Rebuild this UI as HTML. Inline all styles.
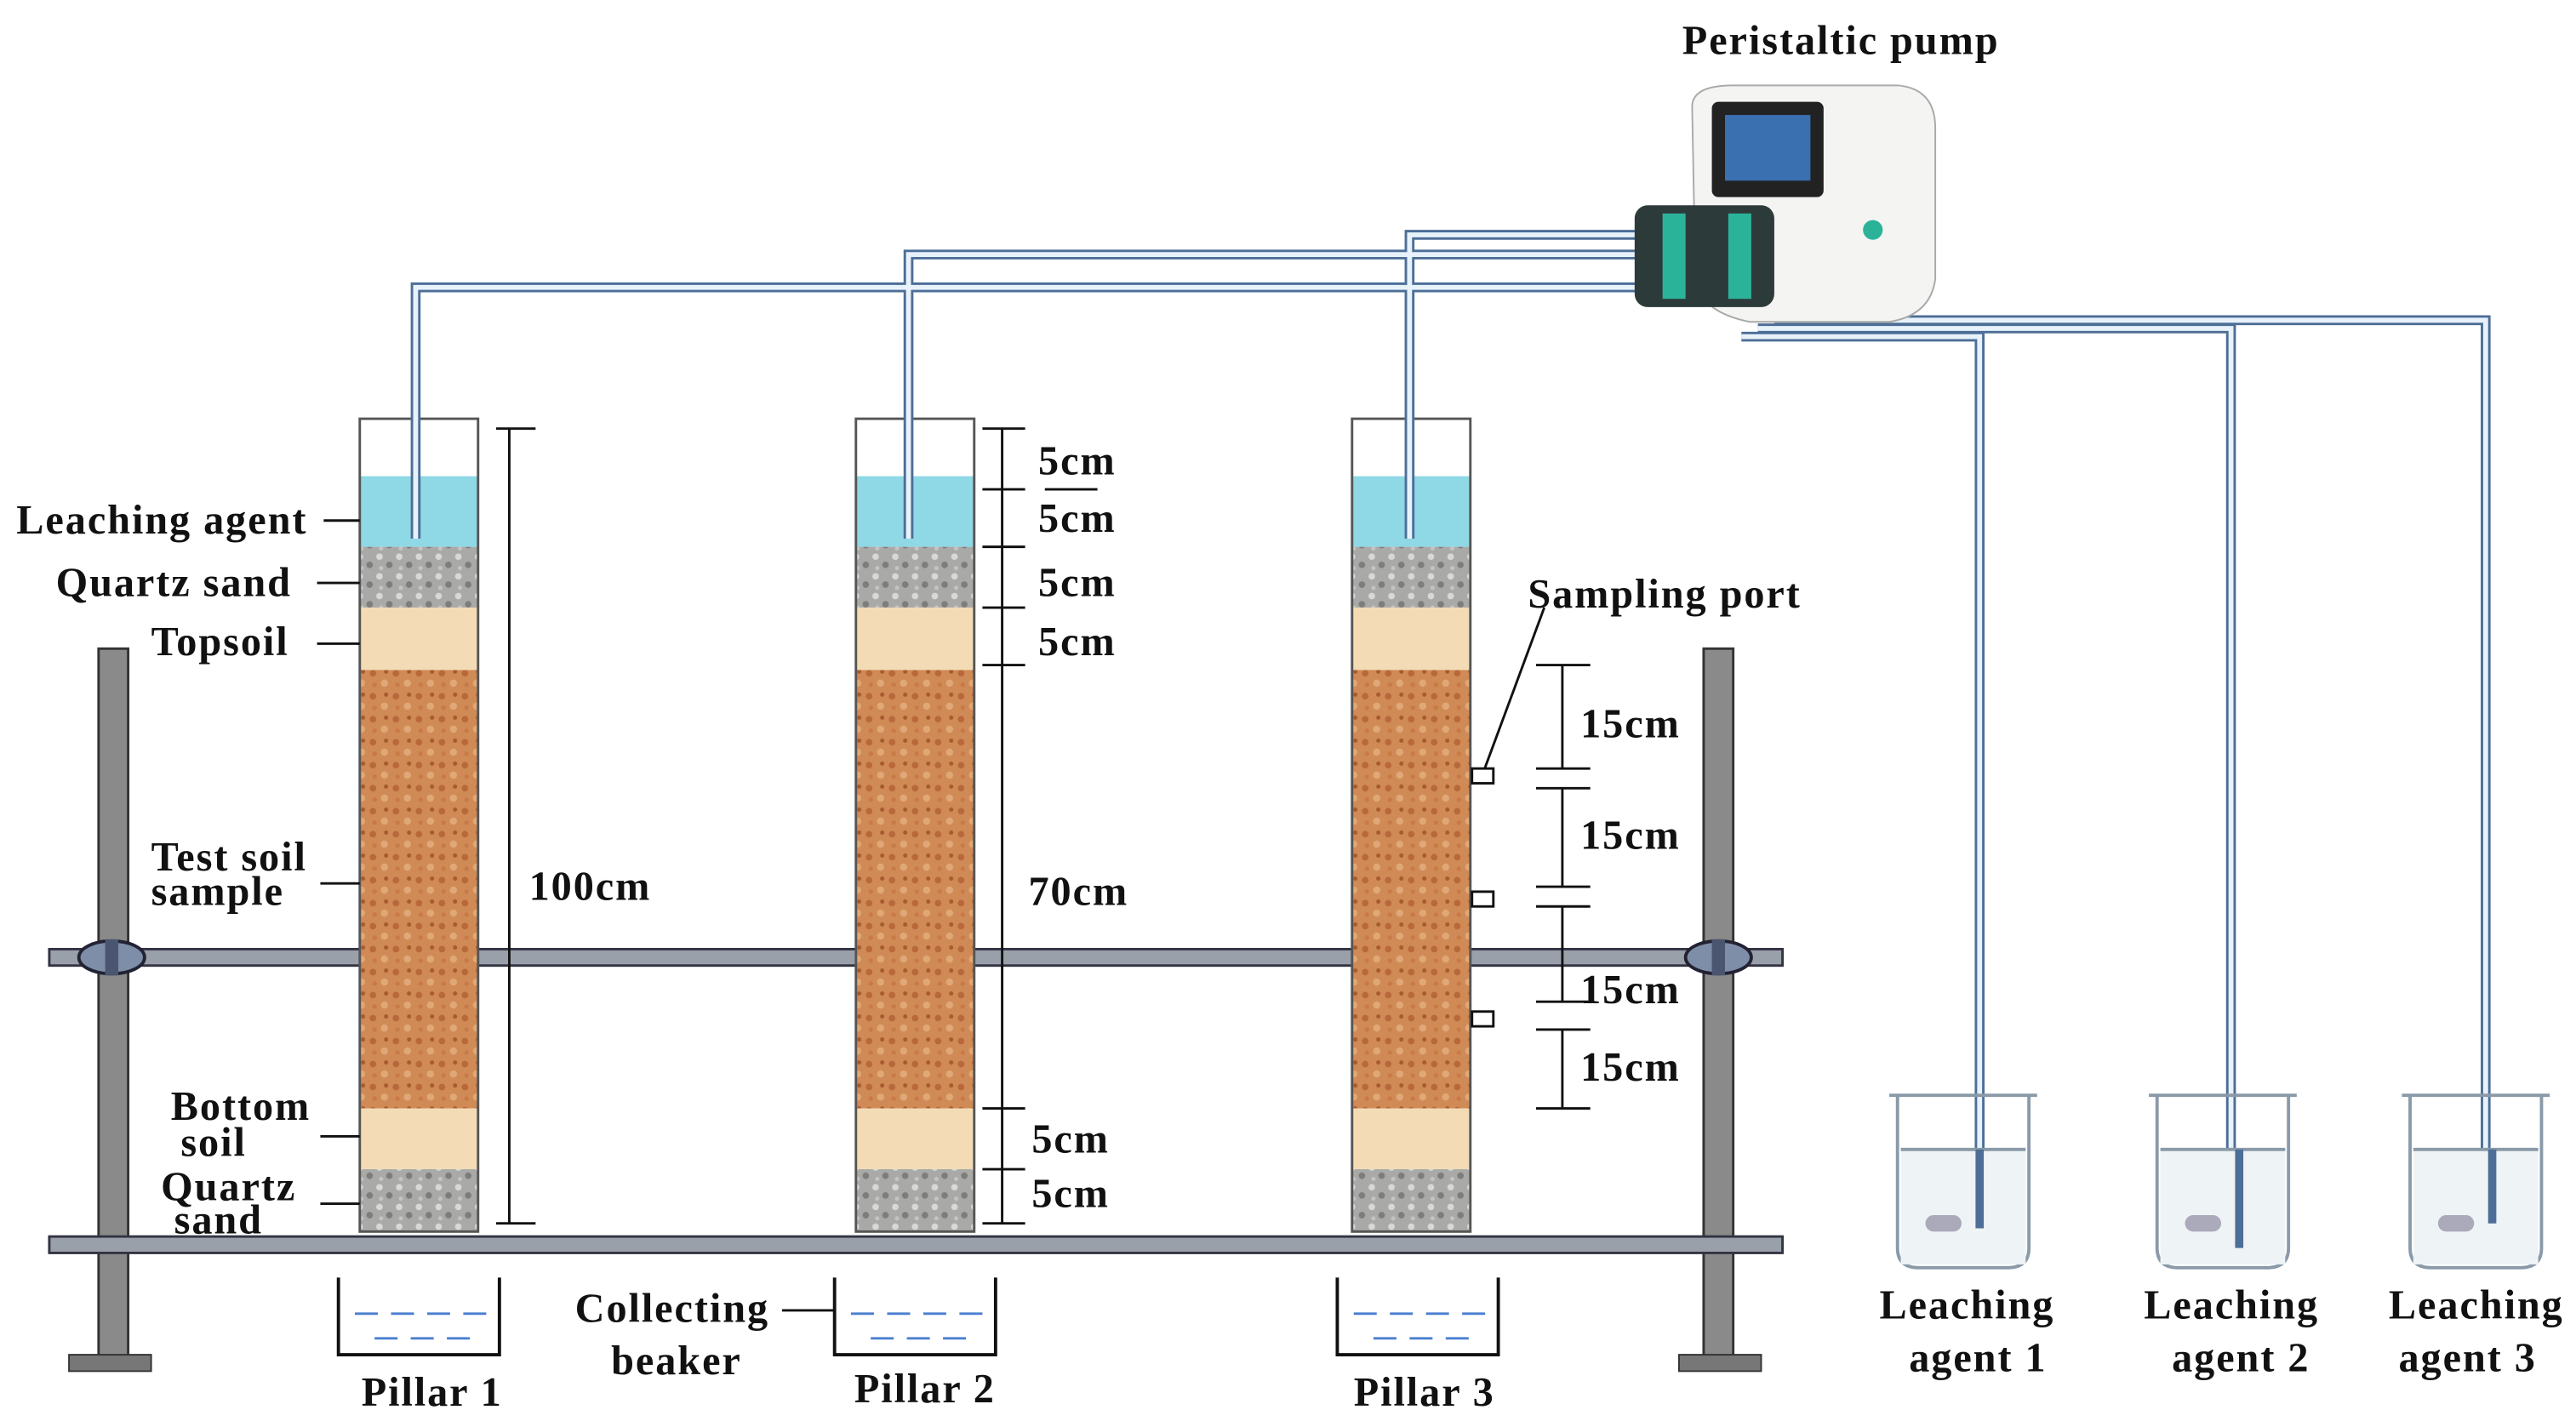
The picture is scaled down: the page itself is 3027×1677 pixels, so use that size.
<!DOCTYPE html>
<html><head><meta charset="utf-8"><style>
html,body{margin:0;padding:0;background:#fff;}
svg{display:block}
text{font-family:"Liberation Serif",serif;font-weight:bold;fill:#111;letter-spacing:1px;}
</style></head><body>
<svg width="3027" height="1677" viewBox="0 0 1568 869" preserveAspectRatio="none" xmlns="http://www.w3.org/2000/svg">
<defs>
<pattern id="soil" width="14" height="14" patternUnits="userSpaceOnUse">
<rect width="14" height="14" fill="#d08a55"/>
<circle cx="3" cy="4" r="2" fill="#b8683a"/><circle cx="10" cy="10" r="2.2" fill="#e0a877"/><circle cx="11" cy="3" r="1.3" fill="#a85a30"/><circle cx="4" cy="11" r="1.4" fill="#c77a48"/>
</pattern>
<pattern id="sand" width="12" height="12" patternUnits="userSpaceOnUse">
<rect width="12" height="12" fill="#a9aaa8"/>
<circle cx="3" cy="3" r="2" fill="#d8d8d6"/><circle cx="9" cy="8" r="2" fill="#7d7e7c"/><circle cx="4" cy="10" r="1.3" fill="#c4c4c2"/>
</pattern>
</defs>

<rect x="60" y="395" width="18" height="432" fill="#8a8a8a" stroke="#333" stroke-width="1.5"/>
<rect x="42" y="825" width="50" height="10" fill="#777" stroke="#333"/>
<rect x="1037" y="395" width="18" height="432" fill="#8a8a8a" stroke="#333" stroke-width="1.5"/>
<rect x="1022" y="825" width="50" height="10" fill="#777" stroke="#333"/>
<rect x="30" y="578" width="1055" height="10" fill="#9aa0aa" stroke="#334" stroke-width="1.5"/>
<rect x="30" y="753" width="1055" height="10" fill="#9aa0aa" stroke="#334" stroke-width="1.5"/>

<g id="c1">
<rect x="219" y="290" width="72" height="43" fill="#8fd8e6"/>
<rect x="219" y="333" width="72" height="37" fill="url(#sand)"/>
<rect x="219" y="370" width="72" height="38" fill="#f3dcb5"/>
<rect x="219" y="408" width="72" height="267" fill="url(#soil)"/>
<rect x="219" y="675" width="72" height="37" fill="#f3dcb5"/>
<rect x="219" y="712" width="72" height="38" fill="url(#sand)"/>
<rect x="219" y="255" width="72" height="495" fill="none" stroke="#555" stroke-width="1.5"/>
</g>
<use href="#c1" x="302"/>
<use href="#c1" x="604"/>

<ellipse cx="68" cy="583" rx="20" ry="10" fill="#7e8ea8" stroke="#223" stroke-width="2"/>
<rect x="64" y="572" width="8" height="22" fill="#4a5670"/>
<ellipse cx="1046" cy="583" rx="20" ry="10" fill="#7e8ea8" stroke="#223" stroke-width="2"/>
<rect x="1042" y="572" width="8" height="22" fill="#4a5670"/>

<g fill="none" stroke="#4d6e96" stroke-width="6">
<path d="M253 328 V175 H1005"/><path d="M553 328 V155 H1005"/><path d="M858 328 V143 H1005"/>
<path d="M1060 205 H1205 V748"/><path d="M1070 200 H1358 V760"/><path d="M1080 195 H1513 V745"/>
</g>
<g fill="none" stroke="#e8f2fb" stroke-width="3">
<path d="M253 328 V175 H1005"/><path d="M553 328 V155 H1005"/><path d="M858 328 V143 H1005"/>
<path d="M1060 205 H1205 V748"/><path d="M1070 200 H1358 V760"/><path d="M1080 195 H1513 V745"/>
</g>

<path d="M1030 65 Q1030 52 1055 52 H1155 Q1178 54 1178 78 V170 Q1175 192 1150 196 H1065 Q1035 190 1032 170 Z" fill="#f4f4f2" stroke="#aaa"/>
<rect x="1042" y="62" width="68" height="58" rx="4" fill="#222"/>
<rect x="1050" y="70" width="52" height="40" fill="#3a6fb0"/>
<rect x="995" y="125" width="85" height="62" rx="8" fill="#2d3a3a"/>
<rect x="1012" y="130" width="14" height="52" fill="#2bb39a"/>
<rect x="1052" y="130" width="14" height="52" fill="#2bb39a"/>
<circle cx="1140" cy="140" r="6" fill="#2bb39a"/>

<g id="bk" fill="none" stroke="#8a9aa8" stroke-width="2">
<path d="M1150 667 H1240 M1155 667 V760 Q1155 772 1168 772 H1222 Q1235 772 1235 760 V667" />
<rect x="1157" y="700" width="76" height="70" fill="#eef3f6" stroke="none"/>
<line x1="1157" y1="700" x2="1233" y2="700"/>
<rect x="1172" y="740" width="22" height="10" rx="5" fill="#aab" stroke="none"/>
</g>
<use href="#bk" x="158"/>
<use href="#bk" x="312"/>
<g fill="none" stroke="#4d6e96" stroke-width="5"><path d="M1205 700 V748"/><path d="M1363 700 V760"/><path d="M1517 700 V745"/></g>

<g id="cb" fill="none" stroke="#111" stroke-width="2">
<path d="M206 778 V825 H304 V778"/>
<path d="M216 800 H296 M228 815 H286" stroke="#4a7fd0" stroke-dasharray="14 8" stroke-width="1.5"/>
</g>
<use href="#cb" x="302"/>
<use href="#cb" x="608"/>

<g stroke="#111" stroke-width="1.5" fill="none">
<path d="M310 261 V745 M302 261 H326 M302 745 H326"/>
<path d="M610 261 V745 M598 261 H624 M598 298 H624 M598 333 H624 M598 370 H624 M598 405 H624 M598 675 H624 M598 712 H624 M598 745 H624"/>
<path d="M636 298 H668"/>
<path d="M951 405 V468 M935 405 H968 M935 468 H968 M951 480 V540 M935 480 H968 M935 540 H968 M951 552 V610 M935 552 H968 M935 610 H968 M951 627 V675 M935 627 H968 M935 675 H968"/>
<path d="M197 317 H219 M193 355 H219 M193 392 H219 M195 538 H219 M195 692 H219 M195 733 H219 M476 798 H508"/>
<path d="M940 370 L903 470"/>
</g>
<g fill="#fff" stroke="#111" stroke-width="1.5">
<rect x="896" y="468" width="13" height="9"/><rect x="896" y="543" width="13" height="9"/><rect x="896" y="616" width="13" height="9"/>
</g>

<g font-size="25">
<text x="1024" y="33">Peristaltic pump</text>
<text x="10" y="325">Leaching agent</text>
<text x="34" y="363">Quartz sand</text>
<text x="92" y="399">Topsoil</text>
<text x="92" y="530">Test soil</text>
<text x="92" y="551">sample</text>
<text x="104" y="682">Bottom</text>
<text x="110" y="704">soil</text>
<text x="98" y="731">Quartz</text>
<text x="106" y="751">sand</text>
<text x="322" y="548">100cm</text>
<text x="632" y="289">5cm</text>
<text x="632" y="324">5cm</text>
<text x="632" y="363">5cm</text>
<text x="632" y="399">5cm</text>
<text x="626" y="551">70cm</text>
<text x="628" y="702">5cm</text>
<text x="628" y="735">5cm</text>
<text x="930" y="370">Sampling port</text>
<text x="962" y="449">15cm</text>
<text x="962" y="517">15cm</text>
<text x="962" y="611">15cm</text>
<text x="962" y="658">15cm</text>
<text x="350" y="805">Collecting</text>
<text x="372" y="837">beaker</text>
<text x="220" y="856">Pillar 1</text>
<text x="520" y="854">Pillar 2</text>
<text x="824" y="856">Pillar 3</text>
<text x="1144" y="803">Leaching</text>
<text x="1162" y="835">agent 1</text>
<text x="1305" y="803">Leaching</text>
<text x="1322" y="835">agent 2</text>
<text x="1454" y="803">Leaching</text>
<text x="1460" y="835">agent 3</text>
</g>
</svg>
</body></html>
